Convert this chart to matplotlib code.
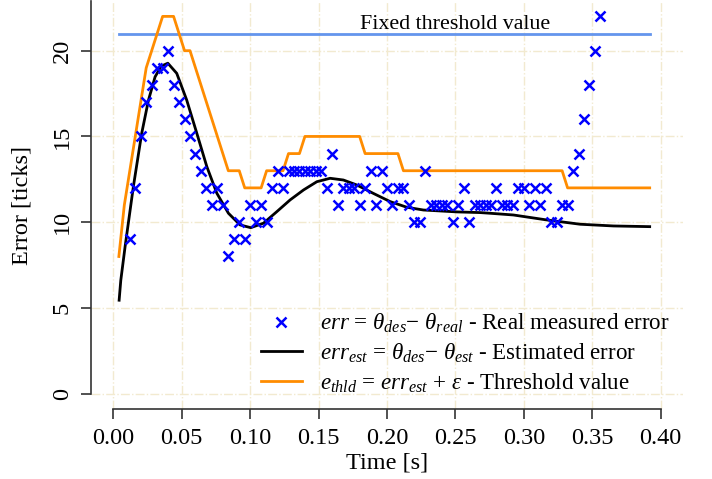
import matplotlib
matplotlib.use("Agg")
import matplotlib.pyplot as plt
from matplotlib.lines import Line2D

plt.rcParams["font.family"] = ["Liberation Serif", "DejaVu Serif"]
plt.rcParams["mathtext.fontset"] = "custom"
plt.rcParams["mathtext.rm"] = "Liberation Serif"
plt.rcParams["mathtext.it"] = "Liberation Serif:italic"
plt.rcParams["font.size"] = 15.8

# measured error, one sample every 4 ms
err_time_ms = [12, 16, 20, 24, 28, 32, 36, 40, 44, 48, 52, 56, 60, 64, 68, 72, 76, 80,
               84, 88, 92, 96, 100, 104, 108, 112, 116, 120, 124, 128, 132, 136, 140,
               144, 148, 152, 156, 160, 164, 168, 172, 176, 180, 184, 188, 192, 196,
               200, 204, 208, 212, 216, 220, 224, 228, 232, 236, 240, 244, 248, 252,
               256, 260, 264, 268, 272, 276, 280, 284, 288, 292, 296, 300, 304, 308,
               312, 316, 320, 324, 328, 332, 336, 340, 344, 348, 352, 356]
err_real = [9, 12, 15, 17, 18, 19, 19, 20, 18, 17, 16, 15, 14, 13, 12, 11, 12, 11,
            8, 9, 10, 9, 11, 10, 11, 10, 12, 13, 12, 13, 13, 13, 13,
            13, 13, 13, 12, 14, 11, 12, 12, 12, 11, 12, 13, 11, 13,
            12, 11, 12, 12, 11, 10, 10, 13, 11, 11, 11, 11, 10, 11,
            12, 10, 11, 11, 11, 11, 12, 11, 11, 11, 12, 12, 11, 12,
            11, 12, 10, 10, 11, 11, 13, 14, 16, 18, 20, 22]

# estimated error curve
est_time = [0.0042, 0.0054, 0.0086, 0.0146, 0.0207, 0.0256, 0.0305, 0.035, 0.0398,
            0.0463, 0.0536, 0.061, 0.0683, 0.0756, 0.0841, 0.0926, 0.1004, 0.1097,
            0.1194, 0.1292, 0.139, 0.1487, 0.1584, 0.1681, 0.1779, 0.19, 0.2023,
            0.2145, 0.2266, 0.251, 0.268, 0.2754, 0.2924, 0.3168, 0.3412, 0.3655, 0.392]
err_est = [5.45, 6.6, 8.6, 12.07, 15.18, 17.1, 18.48, 19.1, 19.27,
           18.68, 17.12, 15.18, 13.24, 11.69, 10.52, 9.84, 9.68, 9.94,
           10.61, 11.3, 11.88, 12.36, 12.56, 12.46, 12.17, 11.68, 11.2,
           10.87, 10.71, 10.6, 10.56, 10.52, 10.42, 10.13, 9.88, 9.78, 9.74]

# threshold (corner points of the stepped line)
thld_time = [0.004, 0.008, 0.024, 0.036, 0.044, 0.052, 0.056, 0.084, 0.092, 0.096,
             0.108, 0.112, 0.124, 0.128, 0.136, 0.140, 0.180, 0.184, 0.208, 0.212,
             0.328, 0.332, 0.392]
thld_val = [8, 11, 19, 22, 22, 20, 20, 13, 13, 12,
            12, 13, 13, 14, 14, 15, 15, 14, 14, 13,
            13, 12, 12]

fixed_time = [0.004, 0.392]
fixed_val = [21, 21]

x_ticks = [0.00, 0.05, 0.10, 0.15, 0.20, 0.25, 0.30, 0.35, 0.40]
y_ticks = [0, 5, 10, 15, 20]

grid_col = "#F2EAD0"
axis_col = "#333333"
label_size = 17.5

fig = plt.figure(figsize=(7.12, 4.79), dpi=100)
ax = fig.add_axes([0.1285, 0.1466, 0.8301, 0.8507])
ax.set_xlim(-0.016, 0.416)
ax.set_ylim(-0.88, 22.88)

for xt in x_ticks:
    ax.axvline(xt, color=grid_col, lw=1.0, ls="-.", zorder=0)
for yt in y_ticks:
    ax.axhline(yt, color=grid_col, lw=1.0, ls="-.", zorder=0)

err_time = [t / 1000 for t in err_time_ms]
ax.plot(fixed_time, fixed_val, color="#6495ED", lw=2)
ax.plot(thld_time, thld_val, color="#FF8C00", lw=2)
ax.plot(est_time, err_est, color="black", lw=2)
ax.plot(err_time, err_real, ls="none", marker="x", ms=6.5, mew=1.8, color="#0000FF")

ax.text(0.25, 21.25, "Fixed threshold value", ha="center", va="baseline")

ax.spines["top"].set_visible(False)
ax.spines["right"].set_visible(False)
ax.spines["left"].set_bounds(0, 22.88)
ax.spines["bottom"].set_bounds(0, 0.40)
for s in ("left", "bottom"):
    ax.spines[s].set_color(axis_col)
    ax.spines[s].set_linewidth(1.2)

ax.set_xticks(x_ticks)
ax.set_xticklabels([f"{v:.2f}" for v in x_ticks])
ax.set_yticks(y_ticks)
ax.tick_params(axis="both", length=7.5, width=1.2, color=axis_col, pad=6,
               labelsize=label_size)
ax.tick_params(axis="y", labelrotation=90)
for lab in ax.get_yticklabels():
    lab.set_va("center")

ax.set_xlabel("Time [s]", fontsize=label_size)
ax.set_ylabel("Error [ticks]", fontsize=label_size)
ax.xaxis.set_label_coords(0.5, -0.107)
ax.yaxis.set_label_coords(-0.1, 0.5)

handles = [
    Line2D([], [], ls="none", marker="x", ms=6.5, mew=1.8, color="#0000FF"),
    Line2D([], [], color="black", lw=2),
    Line2D([], [], color="#FF8C00", lw=2),
]
labels = [
    r"$err$ = $\theta_{des}$− $\theta_{real}$ - Real measured error",
    r"$err_{est}$ = $\theta_{des}$− $\theta_{est}$ - Estimated error",
    r"$e_{thld}$ = $err_{est}$ + $\varepsilon$ - Threshold value",
]
ax.legend(handles, labels, loc="lower right", bbox_to_anchor=(0.979, 0.035),
          frameon=False, borderpad=0, borderaxespad=0, handlelength=1.8,
          handletextpad=0.8, labelspacing=0.28, fontsize=16.6)

fig.savefig("out.png", dpi=100)
